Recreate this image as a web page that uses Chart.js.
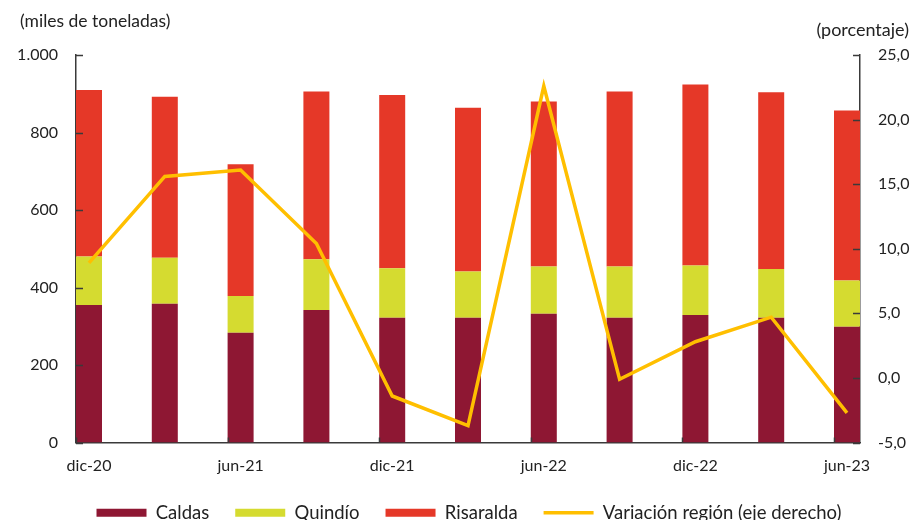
<!DOCTYPE html>
<html lang="es">
<head>
<meta charset="utf-8">
<script src="https://cdn.jsdelivr.net/npm/chart.js@4.4.1/dist/chart.umd.min.js"></script>
<style>
  html, body { margin: 0; padding: 0; background: #fff; }
  #wrap { position: relative; width: 914px; height: 520px; }
  .unit { position: absolute; font-family: Lato, sans-serif; color: #222; white-space: nowrap; }
</style>
</head>
<body>
<div id="wrap">
  <canvas id="chart" width="914" height="520"></canvas>
  <div class="unit" style="left:20px; top:10px; font-size:17.5px;">(miles de toneladas)</div>
  <div class="unit" style="right:5px; top:18px; font-size:18px;">(porcentaje)</div>
</div>
<script>
// periods (quarterly)
const months = ['dic-20', 'mar-21', 'jun-21', 'sep-21', 'dic-21', 'mar-22', 'jun-22', 'sep-22', 'dic-22', 'mar-23', 'jun-23'];
// miles de toneladas
const caldas    = [355, 358, 283, 342, 322, 322, 332, 322, 329, 322, 299];
const quindio   = [125, 119,  95, 131, 128, 119, 122, 132, 128, 126, 119];
const risaralda = [430, 415, 340, 433, 447, 423, 426, 452, 467, 456, 439];
// variación anual región (%)
const variacion = [8.9, 15.6, 16.1, 10.4, -1.4, -3.7, 22.6, -0.1, 2.8, 4.7, -2.7];
// which categories get a label on the x axis
const xTickIdx = [0, 2, 4, 6, 8, 10];
const leftTicks = [0, 200, 400, 600, 800, 1000];
const rightTicks = [-5, 0, 5, 10, 15, 20, 25];

const BAR_PCT = 0.343;
const HALF = BAR_PCT / 2;
const AXIS = '#3a3a3a';
const FONT = { family: 'Lato, sans-serif', size: 16 };

const pts = arr => arr.map((v, i) => ({ x: i, y: v }));

function fmtMiles(v) {
  return v >= 1000 ? Math.floor(v / 1000) + '.' + String(v % 1000).padStart(3, '0') : String(v);
}

// small inward tick marks like the original
const tickMarks = {
  id: 'tickMarks',
  afterDatasetsDraw(chart) {
    const { ctx, chartArea: a, scales } = chart;
    ctx.save();
    ctx.strokeStyle = AXIS;
    ctx.lineWidth = 1.5;
    ctx.beginPath();
    leftTicks.forEach(v => {
      const py = Math.round(scales.y.getPixelForValue(v)) + 0.5;
      ctx.moveTo(a.left, py); ctx.lineTo(a.left + 7, py);
    });
    rightTicks.forEach(v => {
      const py = Math.round(scales.y2.getPixelForValue(v)) + 0.5;
      ctx.moveTo(a.right - 7, py); ctx.lineTo(a.right, py);
    });
    xTickIdx.forEach(k => {
      const px = Math.round(scales.x.getPixelForValue(k - HALF)) + 0.5;
      ctx.moveTo(px, a.bottom); ctx.lineTo(px, a.bottom - 5);
    });
    ctx.stroke();
    ctx.restore();
  }
};

const barDs = (label, data, color) => ({
  type: 'bar', label, data: pts(data), backgroundColor: color,
  yAxisID: 'y', order: 1, categoryPercentage: 1, barPercentage: BAR_PCT
});

new Chart(document.getElementById('chart'), {
  data: {
    datasets: [
      barDs('Caldas', caldas, '#8e1733'),
      barDs('Quindío', quindio, '#d5db30'),
      barDs('Risaralda', risaralda, '#e53828'),
      {
        type: 'line', label: 'Variación región (eje derecho)', data: pts(variacion),
        borderColor: '#ffbf00', borderWidth: 3.5, pointRadius: 0, tension: 0,
        yAxisID: 'y2', order: 0
      }
    ]
  },
  options: {
    responsive: false,
    animation: false,
    layout: { padding: { top: 55, left: 0, right: -24, bottom: -12 } },
    plugins: {
      tooltip: { enabled: false },
      legend: {
        position: 'bottom',
        labels: {
          font: { family: 'Lato, sans-serif', size: 18.5 }, color: '#222', usePointStyle: true,
          pointStyleWidth: 50, boxWidth: 50, boxHeight: 8, padding: 26,
          generateLabels: (chart) => chart.data.datasets.map((ds, i) => ({
            text: ds.label,
            fillStyle: ds.type === 'line' ? ds.borderColor : ds.backgroundColor,
            strokeStyle: ds.type === 'line' ? ds.borderColor : ds.backgroundColor,
            lineWidth: ds.type === 'line' ? 3.5 : 0,
            pointStyle: ds.type === 'line' ? 'line' : 'rect',
            hidden: false, datasetIndex: i, fontColor: '#222'
          }))
        }
      }
    },
    scales: {
      x: {
        type: 'linear', stacked: true, bounds: 'data', offset: false,
        min: -HALF, max: months.length - 1 + HALF,
        afterBuildTicks: s => { s.ticks = xTickIdx.map(v => ({ value: v })); },
        afterFit: s => { s.height = 35; },
        grid: { display: false, drawTicks: false, offset: false },
        border: { display: true, color: AXIS, width: 1.5 },
        ticks: { font: FONT, color: '#222', padding: 14, maxRotation: 0,
                 callback: v => months[v] }
      },
      y: {
        position: 'left', stacked: true, min: 0, max: 1000,
        afterBuildTicks: s => { s.ticks = leftTicks.map(v => ({ value: v })); },
        afterFit: s => { s.width = 76; },
        grid: { display: false, drawTicks: false },
        border: { display: true, color: AXIS, width: 1.5 },
        ticks: { font: FONT, color: '#222', padding: 18, callback: v => fmtMiles(v) }
      },
      y2: {
        position: 'right', min: -5, max: 25,
        afterBuildTicks: s => { s.ticks = rightTicks.map(v => ({ value: v })); },
        afterFit: s => { s.width = 78; },
        grid: { display: false, drawTicks: false },
        border: { display: true, color: AXIS, width: 1.5 },
        ticks: { font: FONT, color: '#222', padding: 18,
                 callback: v => v.toFixed(1).replace('.', ',') }
      }
    }
  },
  plugins: [tickMarks]
});
</script>
</body>
</html>
